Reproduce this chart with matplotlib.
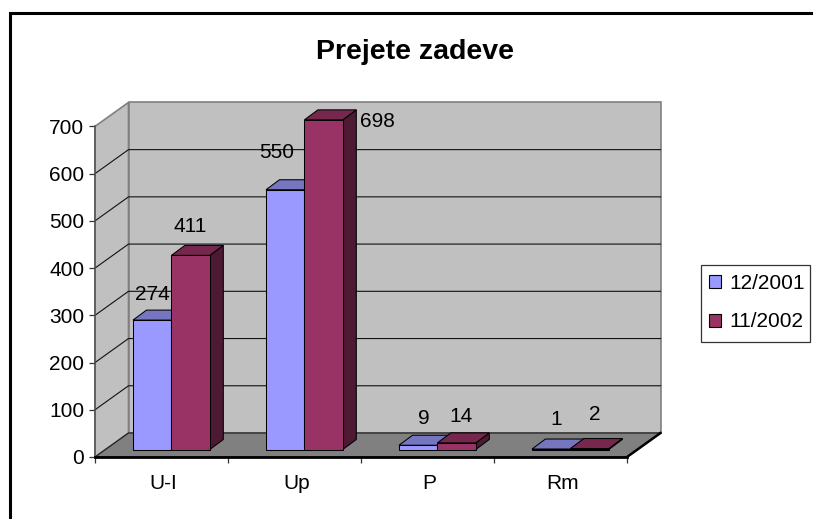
import matplotlib
matplotlib.use("Agg")
import matplotlib.pyplot as plt
from matplotlib.patches import Polygon, Patch, Rectangle

plt.rcParams['font.family'] = ['Liberation Sans', 'DejaVu Sans']

categories = ['U-I', 'Up', 'P', 'Rm']
series_names = ['12/2001', '11/2002']
values_2001 = [274, 550, 9, 1]
values_2002 = [411, 698, 14, 2]
y_ticks = [0, 100, 200, 300, 400, 500, 600, 700]

# label shift from the centre of the bar top, in pixels (x, y up)
shift_2001 = [(0, 26), (-9, 37), (6, 27), (5, 30)]
shift_2002 = [(0, 29), (54, -2), (4, 26), (5, 34)]

W, H = 813, 519
LEFT, RIGHT, BASE, TOP = 95, 627, 457, 126.4

# depth of the fake 3D box and of the bars, in data units
px_x = 4 / (RIGHT - LEFT)
px_y = 700 / (BASE - TOP)
wall_dx, wall_dy = 33.5 * px_x, 24 * px_y
bar_dx, bar_dy = 13.5 * px_x, 10 * px_y
bar_lift = 7.5 * px_y
bar_start = 38 * px_x
bar_w = 38.4 * px_x

fig = plt.figure(figsize=(W / 100, H / 100), dpi=100)
ax = fig.add_axes([LEFT / W, 1 - BASE / H, (RIGHT - LEFT) / W, (BASE - TOP) / H])
ax.set_xlim(0, 4)
ax.set_ylim(0, 700)
ax.patch.set_visible(False)


def poly(points, face, edge='black', lw=0.75, z=2):
    ax.add_patch(Polygon(points, closed=True, facecolor=face, edgecolor=edge,
                         linewidth=lw, zorder=z, clip_on=False, joinstyle='miter'))


# walls and floor
poly([(0, 0), (wall_dx, wall_dy), (wall_dx, 700 + wall_dy), (0, 700)], '#C0C0C0', '#808080', 1.2, 1)
poly([(wall_dx, wall_dy), (4 + wall_dx, wall_dy), (4 + wall_dx, 700 + wall_dy), (wall_dx, 700 + wall_dy)],
     '#C0C0C0', '#808080', 1.2, 1)
poly([(0, 0), (4, 0), (4 + wall_dx, wall_dy), (wall_dx, wall_dy)], '#808080', '#222222', 0.9, 1.5)
ax.plot([4, 4 + wall_dx], [0, wall_dy], color='black', lw=1.8, zorder=1.6, clip_on=False)

# gridlines on both walls
for t in y_ticks[1:-1]:
    ax.plot([0, wall_dx, 4 + wall_dx], [t, t + wall_dy, t + wall_dy], color='#111111', lw=0.8,
            zorder=1.2, clip_on=False)


def draw_bar(x, value, front, top, side, label, shift):
    y0 = bar_lift
    y1 = bar_lift + value
    x1 = x + bar_w
    poly([(x1, y0), (x1 + bar_dx, y0 + bar_dy), (x1 + bar_dx, y1 + bar_dy), (x1, y1)], side)
    poly([(x, y1), (x1, y1), (x1 + bar_dx, y1 + bar_dy), (x + bar_dx, y1 + bar_dy)], top)
    poly([(x, y0), (x1, y0), (x1, y1), (x, y1)], front)
    ax.annotate(label, xy=(x + bar_w / 2, y1), xytext=(shift[0] * 0.72, shift[1] * 0.72),
                textcoords='offset points', ha='center', va='center', fontsize=15, zorder=5,
                color='black', annotation_clip=False)


for i in range(len(categories)):
    draw_bar(i + bar_start, values_2001[i], '#9999FF', '#7676C0', '#4C4C80',
             str(values_2001[i]), shift_2001[i])
    draw_bar(i + bar_start + bar_w, values_2002[i], '#993366', '#75274E', '#4D1933',
             str(values_2002[i]), shift_2002[i])

# axes
for name in ['top', 'right']:
    ax.spines[name].set_visible(False)
ax.spines['left'].set_color('#555555')
ax.spines['left'].set_linewidth(1.1)
ax.spines['bottom'].set_linewidth(2.0)
ax.spines['bottom'].set_zorder(3)
ax.set_yticks(y_ticks)
ax.tick_params(axis='y', length=4.3, width=0.9, pad=3.5, labelsize=15, color='#333333')
ax.set_xticks(range(5))
ax.set_xticklabels([])
ax.tick_params(axis='x', which='major', length=4.3, width=0.9, color='#333333')
ax.set_xticks([i + 0.515 for i in range(4)], minor=True)
ax.set_xticklabels(categories, minor=True)
ax.tick_params(axis='x', which='minor', length=0, pad=12, labelsize=15)

fig.text(415.5 / W, 1 - 52 / H, 'Prejete zadeve', fontsize=20.5, fontweight='bold', ha='center', va='center')

handles = [Patch(facecolor='#9999FF', edgecolor='black', linewidth=0.8),
           Patch(facecolor='#993366', edgecolor='black', linewidth=0.8)]
fig.legend(handles, series_names, loc='center', bbox_to_anchor=(757 / W, 1 - 302.5 / H),
           fontsize=15, frameon=False, handlelength=0.58, handleheight=0.58, handletextpad=0.43,
           labelspacing=0.95, borderpad=0, borderaxespad=0)
fig.add_artist(Rectangle((700.5 / W, 1 - 342 / H), 109.5 / W, 77 / H, transform=fig.transFigure,
                         fill=False, edgecolor='#333333', linewidth=0.9))

# chart frame, only top and left end inside the picture
fig.add_artist(Rectangle((9.7 / W, -0.1), 1.1, 1 - 12.5 / H + 0.1, transform=fig.transFigure,
                         fill=False, edgecolor='black', linewidth=2.2))

fig.savefig('out.png', dpi=100)
